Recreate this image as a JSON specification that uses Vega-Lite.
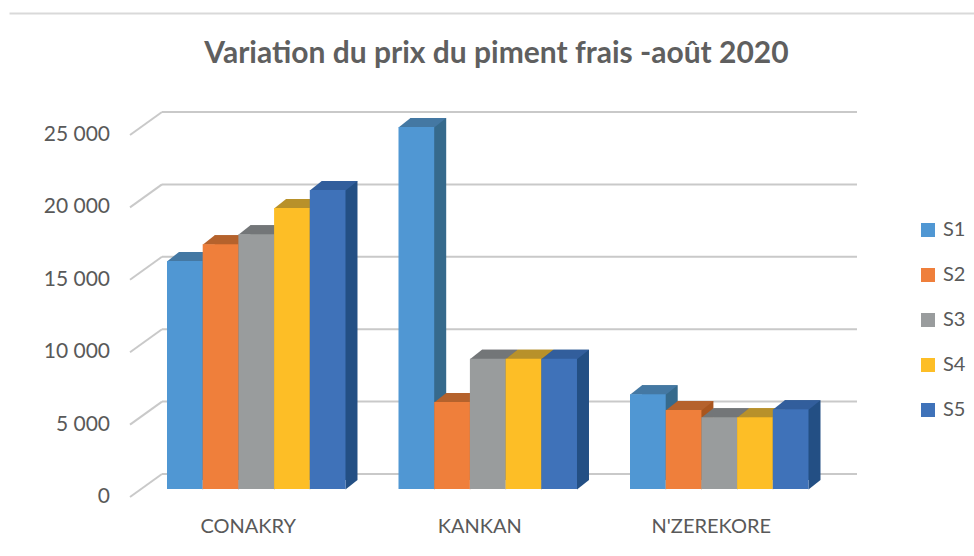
{
  "$schema": "https://vega.github.io/schema/vega-lite/v6.json",
  "width": 965,
  "height": 543,
  "autosize": {"type": "none"},
  "padding": {"left": 9, "top": 13, "right": 0, "bottom": 0},
  "background": "white",
  "config": {
    "view": {"stroke": null},
    "font": "Lato",
    "locale": {"number": {"decimal": ",", "thousands": " ", "grouping": [3], "currency": ["", " GNF"]}}
  },
  "title": {
    "text": "Variation du prix du piment frais -août 2020",
    "anchor": "middle",
    "frame": "group",
    "offset": 0,
    "baseline": "middle",
    "dy": 71,
    "dx": 5,
    "fontSize": 30,
    "font": "Lato",
    "fontWeight": "bold",
    "color": "#5f5f5f"
  },
  "datasets": {
    "prix": [
      {"ville": "CONAKRY", "semaine": "S1", "prix": 15750},
      {"ville": "CONAKRY", "semaine": "S2", "prix": 16900},
      {"ville": "CONAKRY", "semaine": "S3", "prix": 17600},
      {"ville": "CONAKRY", "semaine": "S4", "prix": 19400},
      {"ville": "CONAKRY", "semaine": "S5", "prix": 20650},
      {"ville": "KANKAN", "semaine": "S1", "prix": 25000},
      {"ville": "KANKAN", "semaine": "S2", "prix": 6000},
      {"ville": "KANKAN", "semaine": "S3", "prix": 9000},
      {"ville": "KANKAN", "semaine": "S4", "prix": 9000},
      {"ville": "KANKAN", "semaine": "S5", "prix": 9000},
      {"ville": "N'ZEREKORE", "semaine": "S1", "prix": 6550},
      {"ville": "N'ZEREKORE", "semaine": "S2", "prix": 5450},
      {"ville": "N'ZEREKORE", "semaine": "S3", "prix": 4950},
      {"ville": "N'ZEREKORE", "semaine": "S4", "prix": 4950},
      {"ville": "N'ZEREKORE", "semaine": "S5", "prix": 5500}
    ],
    "graduations": [
      {"v": 0}, {"v": 5000}, {"v": 10000}, {"v": 15000}, {"v": 20000}, {"v": 25000}
    ]
  },
  "resolve": {"scale": {"color": "independent", "x": "independent"}},
  "layer": [
    {
      "data": {"name": "graduations"},
      "mark": {"type": "rule", "color": "#c9c9c9", "strokeWidth": 2, "xOffset": -5, "x2Offset": 48.5, "yOffset": -15},
      "encoding": {
        "x": {"datum": "CONAKRY", "type": "nominal", "bandPosition": 0, "axis": null,
              "scale": {"type": "band", "domain": ["CONAKRY", "KANKAN", "N'ZEREKORE"], "paddingInner": 0.229, "paddingOuter": 0.6987, "align": 0.4884, "round": false}},
        "x2": {"datum": "N'ZEREKORE", "bandPosition": 1},
        "y": {"field": "v", "type": "quantitative", "axis": null, "scale": {"domain": [-4627, 32873], "nice": false}}
      }
    },
    {
      "data": {"name": "graduations"},
      "mark": {"type": "rule", "color": "#c9c9c9", "strokeWidth": 2, "xOffset": -37, "x2Offset": -5, "yOffset": 8, "y2Offset": -15},
      "encoding": {
        "x": {"datum": "CONAKRY", "type": "nominal", "bandPosition": 0, "axis": null,
              "scale": {"type": "band", "domain": ["CONAKRY", "KANKAN", "N'ZEREKORE"], "paddingInner": 0.229, "paddingOuter": 0.6987, "align": 0.4884, "round": false}},
        "x2": {"datum": "CONAKRY", "bandPosition": 0},
        "y": {"field": "v", "type": "quantitative", "axis": null},
        "y2": {"field": "v"}
      }
    },
    {
      "data": {"name": "graduations"},
      "mark": {"type": "text", "align": "right", "baseline": "middle", "fontSize": 21, "font": "Lato", "color": "#595959", "xOffset": -57, "yOffset": 8},
      "encoding": {
        "x": {"datum": "CONAKRY", "type": "nominal", "bandPosition": 0, "axis": null,
              "scale": {"type": "band", "domain": ["CONAKRY", "KANKAN", "N'ZEREKORE"], "paddingInner": 0.229, "paddingOuter": 0.6987, "align": 0.4884, "round": false}},
        "y": {"field": "v", "type": "quantitative", "axis": null},
        "text": {"field": "v", "type": "quantitative", "format": ",d"}
      }
    },
    {
      "data": {"name": "prix"},
      "transform": [{"filter": "datum.semaine === 'S1'"}],
      "mark": {"type": "text", "align": "center", "baseline": "middle", "fontSize": 20, "font": "Lato", "color": "#595959", "xOffset": -8, "yOffset": 38},
      "encoding": {
        "x": {"field": "ville", "type": "nominal", "axis": null,
              "scale": {"type": "band", "domain": ["CONAKRY", "KANKAN", "N'ZEREKORE"], "paddingInner": 0.229, "paddingOuter": 0.6987, "align": 0.4884, "round": false}},
        "y": {"datum": 0, "type": "quantitative", "axis": null},
        "text": {"field": "ville", "type": "nominal"}
      }
    },
    {
      "data": {"name": "prix"},
      "mark": {"type": "bar", "yOffset": -9, "y2Offset": -9},
      "encoding": {
        "x": {"field": "ville", "type": "nominal", "axis": null,
              "scale": {"type": "band", "domain": ["CONAKRY", "KANKAN", "N'ZEREKORE"], "paddingInner": 0.229, "paddingOuter": 0.6987, "align": 0.5255, "round": false}},
        "xOffset": {"field": "semaine", "type": "nominal", "scale": {"paddingInner": 0, "paddingOuter": 0}},
        "y": {"field": "prix", "type": "quantitative", "axis": null},
        "color": {"field": "semaine", "type": "nominal", "legend": null,
                  "scale": {"domain": ["S1", "S2", "S3", "S4", "S5"], "range": ["#366A8C", "#A9561F", "#6B6E70", "#A8801A", "#234F84"]}}
      }
    },
    {
      "data": {"name": "prix"},
      "mark": {"type": "point", "filled": true, "opacity": 1, "strokeWidth": 0, "size": 4, "shape": "M 17.85 0.5 L 17.85 -9 L 29.85 -9 Z"},
      "encoding": {
        "x": {"field": "ville", "type": "nominal", "axis": null,
              "scale": {"type": "band", "domain": ["CONAKRY", "KANKAN", "N'ZEREKORE"], "paddingInner": 0.229, "paddingOuter": 0.6987, "align": 0.4884, "round": false}},
        "xOffset": {"field": "semaine", "type": "nominal"},
        "y": {"datum": 0, "type": "quantitative", "axis": null},
        "color": {"field": "semaine", "type": "nominal", "legend": null,
                  "scale": {"domain": ["S1", "S2", "S3", "S4", "S5"], "range": ["#366A8C", "#A9561F", "#6B6E70", "#A8801A", "#234F84"]}}
      }
    },
    {
      "data": {"name": "prix"},
      "mark": {"type": "point", "filled": true, "opacity": 1, "strokeWidth": 0, "size": 4, "shape": "M -17.85 0.5 L 17.85 0.5 L 29.85 -9 L -5.85 -9 Z"},
      "encoding": {
        "x": {"field": "ville", "type": "nominal", "axis": null,
              "scale": {"type": "band", "domain": ["CONAKRY", "KANKAN", "N'ZEREKORE"], "paddingInner": 0.229, "paddingOuter": 0.6987, "align": 0.4884, "round": false}},
        "xOffset": {"field": "semaine", "type": "nominal"},
        "y": {"field": "prix", "type": "quantitative", "axis": null},
        "color": {"field": "semaine", "type": "nominal", "legend": null,
                  "scale": {"domain": ["S1", "S2", "S3", "S4", "S5"], "range": ["#4478A3", "#B5622C", "#737678", "#B8912A", "#325E9C"]}}
      }
    },
    {
      "data": {"name": "prix"},
      "mark": {"type": "bar"},
      "encoding": {
        "x": {"field": "ville", "type": "nominal",
              "scale": {"type": "band", "domain": ["CONAKRY", "KANKAN", "N'ZEREKORE"], "paddingInner": 0.229, "paddingOuter": 0.6987, "align": 0.4884, "round": false},
              "axis": {"orient": "top", "title": null, "domain": true, "domainColor": "#d9d9d9", "domainWidth": 2, "ticks": false, "labels": false, "grid": false}},
        "xOffset": {"field": "semaine", "type": "nominal"},
        "y": {"field": "prix", "type": "quantitative",
              "axis": {"orient": "left", "title": null, "domain": true, "domainColor": "#d9d9d9", "domainWidth": 2, "ticks": false, "labels": false, "grid": false}},
        "color": {"field": "semaine", "type": "nominal",
                  "scale": {"domain": ["S1", "S2", "S3", "S4", "S5"], "range": ["#5097D3", "#EF7F3B", "#999C9D", "#FDBE26", "#3F72B9"]},
                  "legend": {"orient": "none", "legendX": 909, "legendY": 207, "title": null, "symbolType": "square", "symbolSize": 196,
                             "symbolStrokeWidth": 0, "labelFontSize": 20, "labelColor": "#595959", "labelFont": "Lato", "rowPadding": 25, "padding": 0, "labelOffset": 5}}
      }
    }
  ]
}
